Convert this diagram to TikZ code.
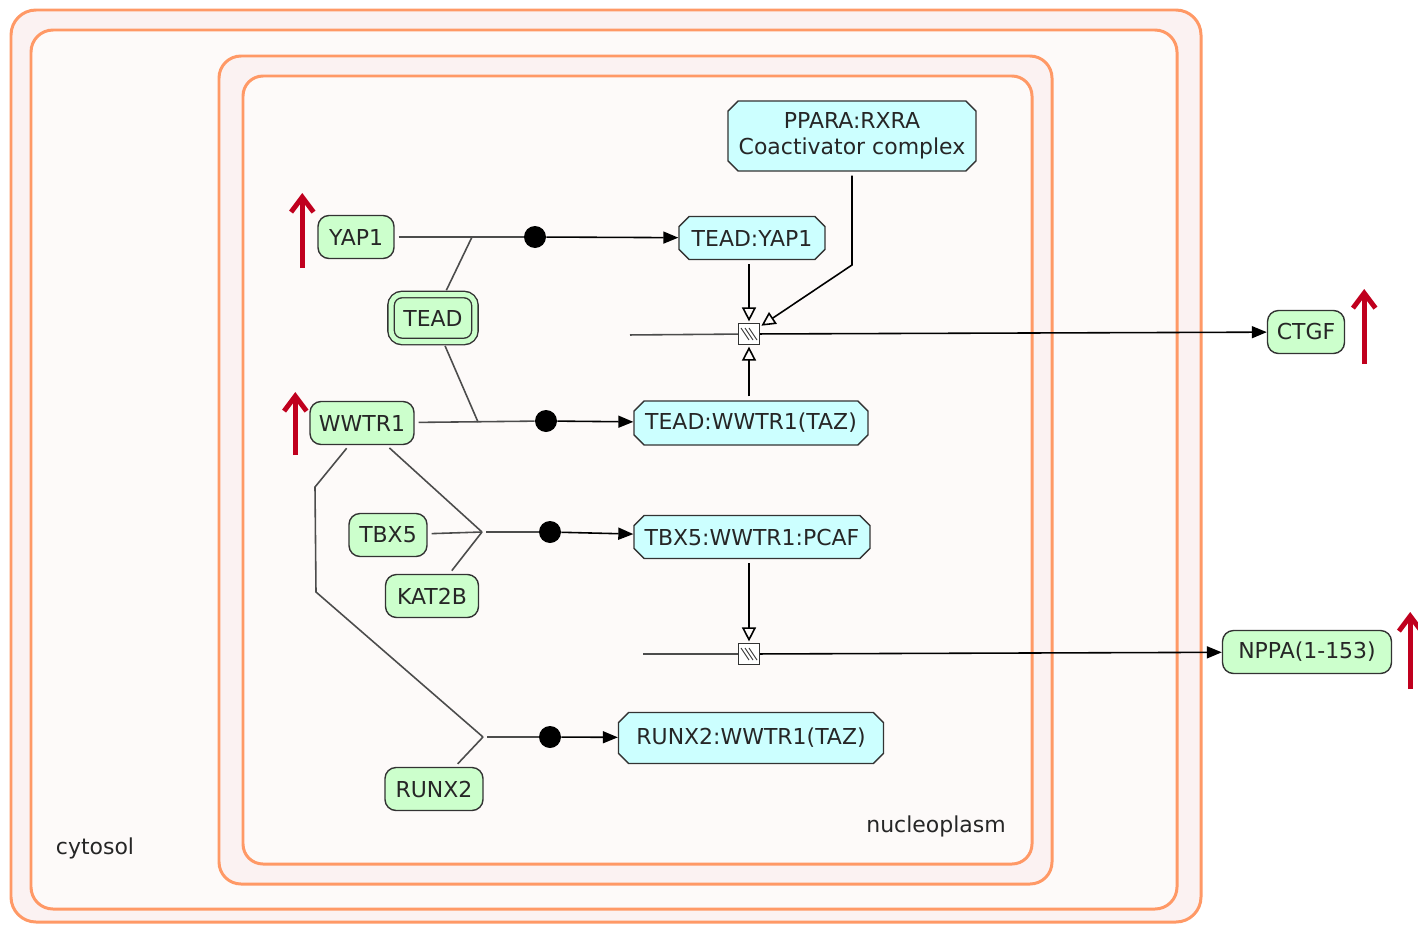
\documentclass[tikz,border=0pt]{standalone}
\usepackage{fontspec}
\setmainfont{DejaVu Sans}
\usetikzlibrary{arrows.meta}
\usetikzlibrary{shapes.misc}
\usetikzlibrary{calc}
\definecolor{protfill}{RGB}{204,255,204}
\definecolor{cplxfill}{RGB}{204,255,255}
\definecolor{compline}{RGB}{255,153,102}
\definecolor{compband}{RGB}{251,242,242}
\definecolor{compin}{RGB}{253,250,249}
\definecolor{upred}{RGB}{192,0,30}

\begin{document}
\begin{tikzpicture}[x=0.02cm, y=-0.02cm, font=\fontsize{12.5}{15}\selectfont, text=black!85,
  comp/.style={draw=compline, line width=1.7pt},
  prot/.style={draw=black!80, fill=protfill, rounded corners=0.22cm, line width=0.8pt, inner sep=0, minimum height=0.86cm},
  cplx/.style={draw=black!80, fill=cplxfill, chamfered rectangle, chamfered rectangle xsep=0.1cm, chamfered rectangle ysep=0.1cm, line width=0.8pt, inner sep=0, minimum height=0.86cm},
  dot/.style={circle, fill=black, minimum size=0.44cm, inner sep=0},
  proc/.style={draw=black!80, fill=white, minimum size=0.42cm, inner sep=0, line width=0.7pt,
    path picture={\foreach \o in {-4,0,4} \draw[line width=0.5pt] ($(path picture bounding box.center)+(\o-4,-6)$) --++(8,12);}},
  reac/.style={draw=black!70, line width=0.9pt, shorten <=0.08cm},
  prod/.style={draw=black, line width=0.9pt, -{Triangle[length=0.3cm, width=0.24cm]}},
  stim/.style={draw=black, line width=0.9pt, shorten <=0.08cm, shorten >=0.03cm, -{Triangle[open, length=0.28cm, width=0.28cm]}},
  upreg/.style={draw=upred, line width=2.8pt, -{Straight Barb[length=0.3cm, width=0.45cm]}}]
\fill[white] (0,0) rectangle (1418,927);
\useasboundingbox (0,0) rectangle (1418,927);

\draw[comp, fill=compband, rounded corners=0.5cm] (11,10) rectangle (1201,922);
\draw[comp, fill=compin, rounded corners=0.44cm] (31,30) rectangle (1177,909);
\draw[comp, fill=compband, rounded corners=0.44cm] (219,56) rectangle (1052,884);
\draw[comp, fill=compin, rounded corners=0.4cm] (243,76) rectangle (1032,864);
\node (cyto) at (95,848) {cytosol};
\node (nucl) at (936,826) {nucleoplasm};

\node[prot, minimum width=1.52cm] (yap) at (356,237) {YAP1};
\node[prot, minimum width=1.68cm, minimum height=0.94cm, double=protfill, double distance=0.1cm] (tead) at (433,318) {TEAD};
\node[prot, minimum width=2.08cm] (wwtr) at (362,423) {WWTR1};
\node[prot, minimum width=1.56cm] (tbx) at (388,535) {TBX5};
\node[prot, minimum width=1.86cm] (katb) at (432,596) {KAT2B};
\node[prot, minimum width=1.96cm] (runx) at (434,789) {RUNX2};
\node[prot, minimum width=1.54cm] (ctgf) at (1306,332) {CTGF};
\node[prot, minimum width=3.38cm] (nppa) at (1307,652) {NPPA(1-153)};

\node[cplx, minimum width=4.96cm, minimum height=1.4cm, align=center] (ppara) at (852,136) {PPARA:RXRA\\Coactivator complex};
\node[cplx, minimum width=2.92cm] (teadyap) at (752,238) {TEAD:YAP1};
\node[cplx, minimum width=4.68cm, minimum height=0.88cm] (teadwwtr) at (751,423) {TEAD:WWTR1(TAZ)};
\node[cplx, minimum width=4.72cm] (tbxpcaf) at (752,537) {TBX5:WWTR1:PCAF};
\node[cplx, minimum width=5.3cm, minimum height=1.02cm] (runxwwtr) at (751,738) {RUNX2:WWTR1(TAZ)};

\node[proc] (tr1) at (749,334) {};
\node[proc] (tr2) at (749,654) {};
\node[dot] (d1) at (535,237) {};
\node[dot] (d2) at (546,421) {};
\node[dot] (d3) at (550,532) {};
\node[dot] (d4) at (550,737) {};
\coordinate (j1) at (472,237);
\coordinate (j2) at (478,422);
\coordinate (j3) at (482,532);
\coordinate (j4) at (483,737);
\coordinate (b1) at (315,487);
\coordinate (b2) at (316,592);
\coordinate (c1) at (852,265);
\coordinate (s1) at (626,335);
\coordinate (s2) at (639,654);

\draw[reac] (yap) -- (d1);
\draw[reac] (tead) -- (j1);
\draw[prod] (d1) -- (teadyap);
\draw[reac] (wwtr) -- (d2);
\draw[reac] (tead) -- (j2);
\draw[prod] (d2) -- (teadwwtr);
\draw[reac] (tbx) -- (j3);
\draw[reac] (wwtr) -- (j3);
\draw[reac] (katb) -- (j3);
\draw[reac] (j3) -- (d3);
\draw[prod] (d3) -- (tbxpcaf);
\draw[reac] (wwtr.240) -- (b1) -- (b2) -- (j4);
\draw[reac] (runx) -- (j4);
\draw[reac] (j4) -- (d4);
\draw[prod] (d4) -- (runxwwtr);

\draw[reac] (s1) -- (tr1);
\draw[prod] (tr1) -- (ctgf);
\draw[stim] (teadyap.south -| tr1) -- (tr1);
\draw[stim] (teadwwtr.north -| tr1) -- (tr1);
\draw[stim] (ppara.south -| c1) -- (c1) -- (tr1);
\draw[reac] (s2) -- (tr2);
\draw[prod] (tr2) -- (nppa);
\draw[stim] (tbxpcaf.south -| tr2) -- (tr2);

\foreach \n/\a/\dx/\dy/\len in {yap/west/-15/31/75, wwtr/west/-14/32/63, ctgf/east/19/32/75, nppa/east/18/37/77}
  \draw[upreg] ($(\n.\a)+(\dx,\dy)$) --++(0,-\len);
\end{tikzpicture}
\end{document}
